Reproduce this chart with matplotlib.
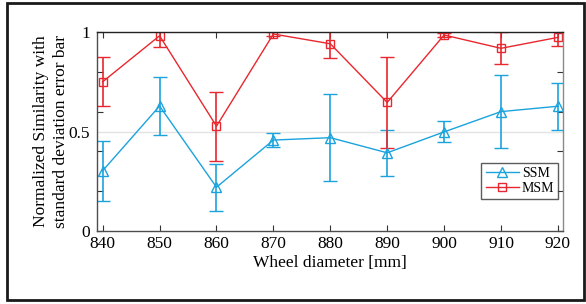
import numpy as np
import matplotlib
matplotlib.use("Agg")
import matplotlib.pyplot as plt
from matplotlib.patches import Rectangle
from matplotlib.lines import Line2D

# -------------------------------------------------
# Data
# -------------------------------------------------
diameter = [840, 850, 860, 870, 880, 890, 900, 910, 920]

ssm_mean = [0.303, 0.628, 0.220, 0.457, 0.469, 0.393, 0.498, 0.600, 0.627]
ssm_std = [0.150, 0.147, 0.118, 0.036, 0.220, 0.115, 0.053, 0.182, 0.117]

msm_mean = [0.750, 0.981, 0.527, 0.990, 0.941, 0.646, 0.985, 0.918, 0.973]
msm_std = [0.122, 0.055, 0.174, 0.010, 0.070, 0.227, 0.010, 0.080, 0.043]

xticks = [840, 850, 860, 870, 880, 890, 900, 910, 920]

blue = "#1ba3dd"
red = "#e8272e"

plt.rcParams["font.family"] = ["Liberation Serif", "DejaVu Serif"]

fig = plt.figure(figsize=(5.86, 3.04), dpi=100)
ax = fig.add_axes([0.1655, 0.2401, 0.7953, 0.6546])

ax.axhline(0.5, color="#e3e3e3", lw=1.0, zorder=0)

ax.errorbar(diameter, ssm_mean, yerr=ssm_std, color=blue, marker="^",
            ms=7, mfc="none", mew=1.0, lw=1.0, elinewidth=1.2,
            capsize=5, capthick=1.2)
ax.errorbar(diameter, msm_mean, yerr=msm_std, color=red, marker="s",
            ms=5.5, mfc="none", mew=1.0, lw=1.0, elinewidth=1.2,
            capsize=5, capthick=1.2)

ax.set_xlim(839, 920.9)
ax.set_ylim(0, 1)
ax.set_xticks(xticks)
ax.set_xticklabels([str(v) for v in xticks])
ax.set_yticks([0, 0.2, 0.4, 0.6, 0.8, 1.0])
ax.set_yticklabels(["0", "", "", "", "", "1"])
ax.set_yticks([0.5], minor=True)
ax.set_yticklabels(["0.5"], minor=True)
ax.tick_params(axis="y", which="minor", length=0, labelsize=12.5, pad=5)
ax.tick_params(which="major", direction="in", length=4, width=0.8,
               top=True, right=True, labelsize=12.5, color="#333333")
ax.tick_params(axis="y", which="major", pad=5)

for side in ["left", "bottom"]:
    ax.spines[side].set_color("#4d4d4d")
ax.spines["right"].set_color("#8a8a8a")
ax.spines["top"].set_color("#222222")
for s in ax.spines.values():
    s.set_linewidth(1.0)

ax.set_xlabel("Wheel diameter [mm]", fontsize=12.5, labelpad=2)
ax.set_ylabel("Normalized Similarity with\nstandard deviation error bar",
              fontsize=12.5, linespacing=1.3, labelpad=0)

handles = [
    Line2D([], [], color=blue, marker="^", ms=7, mfc="none", mew=1.0, lw=1.0),
    Line2D([], [], color=red, marker="s", ms=5.5, mfc="none", mew=1.0, lw=1.0),
]
leg = ax.legend(handles, ["SSM", "MSM"], loc="lower right",
                bbox_to_anchor=(0.99, 0.16), fontsize=10, frameon=True,
                fancybox=False, handlelength=2.4, borderpad=0.3,
                labelspacing=0.15, handletextpad=0.2, borderaxespad=0)
leg.get_frame().set_edgecolor("#333333")
leg.get_frame().set_linewidth(1.0)

fig.patches.append(Rectangle((0.0119, 0.013), 0.9847, 0.977,
                             transform=fig.transFigure, fill=False,
                             edgecolor="#1a1a1a", lw=2.0))

fig.savefig("out.png", dpi=100)
